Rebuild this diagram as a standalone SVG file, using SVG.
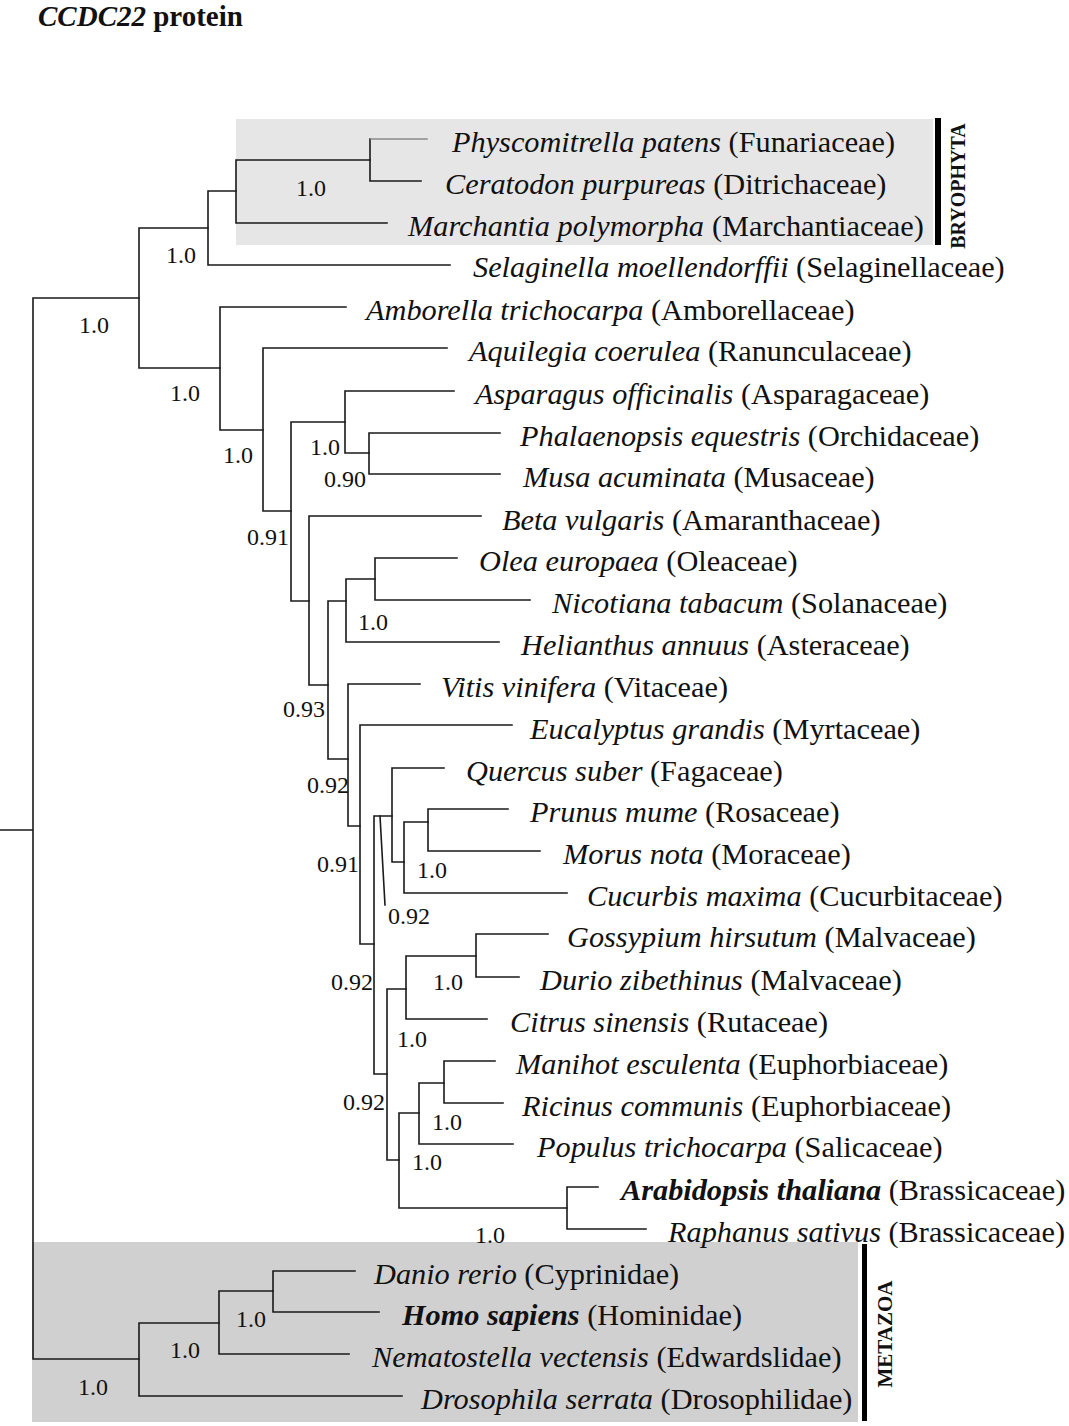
<svg xmlns="http://www.w3.org/2000/svg" width="1069" height="1426" viewBox="0 0 1069 1426">
<style>
.tx{font-family:"Liberation Serif","Times New Roman",serif;font-size:30.3px;fill:#111}
.i{font-style:italic}
.b{font-weight:bold}
.bs{font-family:"Liberation Serif","Times New Roman",serif;font-size:24px;fill:#111}
.grp{font-family:"Liberation Serif","Times New Roman",serif;font-weight:bold;fill:#111;text-anchor:middle}
.br{fill:none;stroke:#1a1a1a;stroke-width:1.6;stroke-linecap:square}
</style>
<rect width="1069" height="1426" fill="#fff"/>
<g id="title"><text x="38" y="26" class="tx b" style="font-size:29px"><tspan class="i">CCDC22</tspan> protein</text></g>
<g id="bryophyta">
<rect x="236" y="119" width="697" height="126" fill="#e6e6e6"/>
<rect x="935" y="118" width="6" height="127" fill="#000"/>
<text class="grp" font-size="20" transform="translate(965,186) rotate(-90)">BRYOPHYTA</text>
</g>
<g id="metazoa">
<rect x="32" y="1242" width="826" height="180" fill="#d0d0d0"/>
<rect x="862" y="1244" width="5" height="177" fill="#000"/>
<text class="grp" font-size="21" transform="translate(892,1334) rotate(-90)">METAZOA</text>
</g>
<g id="connectors">
<path class="br" d="M0,830H33M33,298V1359M33,298H139M33,1359H139"/>
<path class="br" d="M139,228V368M139,228H208M139,368H220"/>
<path class="br" d="M208,191V265M208,191H236M208,265H450"/>
<path class="br" d="M236,160V223M236,160H370M236,223H387"/>
<path class="br" d="M370,139V181M370,181H421"/>
<path class="br" style="stroke:#8a8a8a" d="M371,139H427"/>
<path class="br" d="M220,307V430M220,307H346M220,430H263"/>
<path class="br" d="M263,348V511M263,348H447M263,511H291"/>
<path class="br" d="M291,422V601M291,422H345M291,601H309"/>
<path class="br" d="M345,391V453M345,391H454M345,453H369"/>
<path class="br" d="M369,433V474M369,433H500M369,474H500"/>
<path class="br" d="M309,516V685M309,516H481M309,685H328"/>
<path class="br" d="M328,601V759M328,601H346M328,759H348"/>
<path class="br" d="M346,579V642M346,579H375M346,642H499"/>
<path class="br" d="M375,558V600M375,558H457M375,600H530"/>
<path class="br" d="M348,684V826M348,684H420M348,826H360"/>
<path class="br" d="M360,725V944M360,725H512M360,944H374"/>
<path class="br" d="M374,816V1074M374,816H392M374,1074H387"/>
<path class="br" d="M380,816L385,905"/>
<path class="br" d="M392,768V862M392,768H444M392,862H404"/>
<path class="br" d="M404,822V893M404,822H428M404,893H567"/>
<path class="br" d="M428,809V851M428,809H508M428,851H540"/>
<path class="br" d="M387,989V1160M387,989H406M387,1160H399"/>
<path class="br" d="M406,956V1019M406,956H476M406,1019H487"/>
<path class="br" d="M476,934V977M476,934H548M476,977H519"/>
<path class="br" d="M399,1113V1208M399,1113H419M399,1208H567"/>
<path class="br" d="M419,1083V1144M419,1083H444M419,1144H513"/>
<path class="br" d="M444,1061V1103M444,1061H495M444,1103H503"/>
<path class="br" d="M567,1187V1229M567,1187H598M567,1229H646"/>
<path class="br" d="M139,1323V1396M139,1323H219M139,1396H402"/>
<path class="br" d="M219,1291V1354M219,1291H273M219,1354H349"/>
<path class="br" d="M273,1271V1312M273,1271H355M273,1312H379"/>
</g>
<g id="support">
<text class="bs" x="296" y="196">1.0</text>
<text class="bs" x="166" y="263">1.0</text>
<text class="bs" x="79" y="333">1.0</text>
<text class="bs" x="170" y="401">1.0</text>
<text class="bs" x="223" y="463">1.0</text>
<text class="bs" x="310" y="455">1.0</text>
<text class="bs" x="324" y="487">0.90</text>
<text class="bs" x="247" y="545">0.91</text>
<text class="bs" x="358" y="630">1.0</text>
<text class="bs" x="283" y="717">0.93</text>
<text class="bs" x="307" y="793">0.92</text>
<text class="bs" x="317" y="872">0.91</text>
<text class="bs" x="417" y="878">1.0</text>
<text class="bs" x="388" y="924">0.92</text>
<text class="bs" x="331" y="990">0.92</text>
<text class="bs" x="433" y="990">1.0</text>
<text class="bs" x="397" y="1047">1.0</text>
<text class="bs" x="343" y="1110">0.92</text>
<text class="bs" x="432" y="1130">1.0</text>
<text class="bs" x="412" y="1170">1.0</text>
<text class="bs" x="475" y="1243">1.0</text>
<text class="bs" x="236" y="1327">1.0</text>
<text class="bs" x="170" y="1358">1.0</text>
<text class="bs" x="78" y="1395">1.0</text>
</g>
<g id="n-physcomitrella"><text class="tx" x="452" y="152"><tspan class="i">Physcomitrella patens</tspan> (Funariaceae)</text></g>
<g id="n-ceratodon"><text class="tx" x="445" y="194"><tspan class="i">Ceratodon purpureas</tspan> (Ditrichaceae)</text></g>
<g id="n-marchantia"><text class="tx" x="408" y="236"><tspan class="i">Marchantia polymorpha</tspan><tspan dx="8">(Marchantiaceae)</tspan></text></g>
<g id="n-selaginella"><text class="tx" x="473" y="277"><tspan class="i">Selaginella moellendorffii</tspan> (Selaginellaceae)</text></g>
<g id="n-amborella"><text class="tx" x="366" y="320"><tspan class="i">Amborella trichocarpa</tspan> (Amborellaceae)</text></g>
<g id="n-aquilegia"><text class="tx" x="469" y="361"><tspan class="i">Aquilegia coerulea</tspan> (Ranunculaceae)</text></g>
<g id="n-asparagus"><text class="tx" x="475" y="404"><tspan class="i">Asparagus officinalis</tspan> (Asparagaceae)</text></g>
<g id="n-phalaenopsis"><text class="tx" x="520" y="446"><tspan class="i">Phalaenopsis equestris</tspan> (Orchidaceae)</text></g>
<g id="n-musa"><text class="tx" x="523" y="487"><tspan class="i">Musa acuminata</tspan> (Musaceae)</text></g>
<g id="n-beta"><text class="tx" x="502" y="530"><tspan class="i">Beta vulgaris</tspan> (Amaranthaceae)</text></g>
<g id="n-olea"><text class="tx" x="479" y="571"><tspan class="i">Olea europaea</tspan> (Oleaceae)</text></g>
<g id="n-nicotiana"><text class="tx" x="552" y="613"><tspan class="i">Nicotiana tabacum</tspan> (Solanaceae)</text></g>
<g id="n-helianthus"><text class="tx" x="521" y="655"><tspan class="i">Helianthus annuus</tspan> (Asteraceae)</text></g>
<g id="n-vitis"><text class="tx" x="441" y="697"><tspan class="i">Vitis vinifera</tspan> (Vitaceae)</text></g>
<g id="n-eucalyptus"><text class="tx" x="530" y="739"><tspan class="i">Eucalyptus grandis</tspan> (Myrtaceae)</text></g>
<g id="n-quercus"><text class="tx" x="466" y="781"><tspan class="i">Quercus suber</tspan> (Fagaceae)</text></g>
<g id="n-prunus"><text class="tx" x="530" y="822"><tspan class="i">Prunus mume</tspan> (Rosaceae)</text></g>
<g id="n-morus"><text class="tx" x="563" y="864"><tspan class="i">Morus nota</tspan> (Moraceae)</text></g>
<g id="n-cucurbis"><text class="tx" x="587" y="906"><tspan class="i">Cucurbis maxima</tspan> (Cucurbitaceae)</text></g>
<g id="n-gossypium"><text class="tx" x="567" y="947"><tspan class="i">Gossypium hirsutum</tspan> (Malvaceae)</text></g>
<g id="n-durio"><text class="tx" x="540" y="990"><tspan class="i">Durio zibethinus</tspan> (Malvaceae)</text></g>
<g id="n-citrus"><text class="tx" x="510" y="1032"><tspan class="i">Citrus sinensis</tspan> (Rutaceae)</text></g>
<g id="n-manihot"><text class="tx" x="516" y="1074"><tspan class="i">Manihot esculenta</tspan> (Euphorbiaceae)</text></g>
<g id="n-ricinus"><text class="tx" x="522" y="1116"><tspan class="i">Ricinus communis</tspan> (Euphorbiaceae)</text></g>
<g id="n-populus"><text class="tx" x="537" y="1157"><tspan class="i">Populus trichocarpa</tspan> (Salicaceae)</text></g>
<g id="n-arabidopsis"><text class="tx" x="621" y="1200"><tspan class="i b">Arabidopsis thaliana</tspan> (Brassicaceae)</text></g>
<g id="n-raphanus"><text class="tx" x="668" y="1242"><tspan class="i">Raphanus sativus</tspan> (Brassicaceae)</text></g>
<g id="n-danio"><text class="tx" x="374" y="1284"><tspan class="i">Danio rerio</tspan> (Cyprinidae)</text></g>
<g id="n-homo"><text class="tx" x="402" y="1325"><tspan class="i b">Homo sapiens</tspan> (Hominidae)</text></g>
<g id="n-nematostella"><text class="tx" x="372" y="1367"><tspan class="i">Nematostella vectensis</tspan> (Edwardslidae)</text></g>
<g id="n-drosophila"><text class="tx" x="421" y="1409"><tspan class="i">Drosophila serrata</tspan> (Drosophilidae)</text></g>
</svg>
